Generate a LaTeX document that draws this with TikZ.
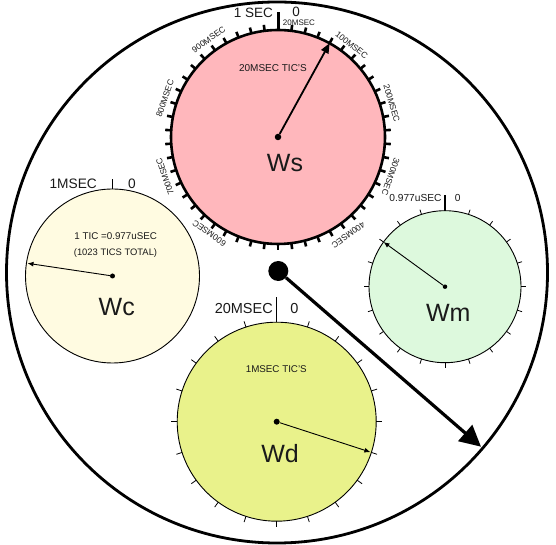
\documentclass[tikz,border=0pt]{standalone}
\usepackage{fontspec}
\setmainfont{Liberation Sans}
\usetikzlibrary{arrows.meta}
\definecolor{wspink}{HTML}{FFB7BC}
\definecolor{wccream}{HTML}{FFFBE1}
\definecolor{wmgreen}{HTML}{DDF9DD}
\definecolor{wdyellow}{HTML}{E9F28B}
\definecolor{ink}{HTML}{1A1A1A}
\begin{document}
\begin{tikzpicture}[x=1pt,y=1pt,
  dial/.style={circle, draw=black, line width=0.9pt, inner sep=0pt},
  hub/.style={circle, fill=black, inner sep=0pt, minimum size=5pt},
  wstic/.style={line width=2.6pt},
  tic/.style={line width=0.8pt},
  zerotic/.style={line width=1.1pt},
  txt/.style={inner sep=0pt, text=ink},
  dialname/.style={txt, font=\fontsize{25}{25}\selectfont},
  ringtext/.style={txt, font=\fontsize{8.5}{8.5}\selectfont},
  pointer/.style={-{Latex[length=6pt,width=5pt]}, line width=0.9pt}]
\useasboundingbox (0,0) rectangle (556,545);
\draw [line width=2.8pt] (277,272.5) circle (270.5pt);
% Ws
\node [dial, fill=wspink, line width=2.6pt, minimum size=214pt] (ws) at (278,408) {};
\draw [line width=3pt] (ws) ++(90:107) -- ++(90:18);
\draw [wstic] (ws) ++(82.8:107) -- ++(82.8:6);
\draw [wstic] (ws) ++(75.6:107) -- ++(75.6:6);
\draw [wstic] (ws) ++(68.4:107) -- ++(68.4:6);
\draw [wstic] (ws) ++(61.2:107) -- ++(61.2:6);
\draw [wstic] (ws) ++(54:107) -- ++(54:6);
\draw [wstic] (ws) ++(46.8:107) -- ++(46.8:6);
\draw [wstic] (ws) ++(39.6:107) -- ++(39.6:6);
\draw [wstic] (ws) ++(32.4:107) -- ++(32.4:6);
\draw [wstic] (ws) ++(25.2:107) -- ++(25.2:6);
\draw [wstic] (ws) ++(18:107) -- ++(18:6);
\draw [wstic] (ws) ++(10.8:107) -- ++(10.8:6);
\draw [wstic] (ws) ++(3.6:107) -- ++(3.6:6);
\draw [wstic] (ws) ++(-3.6:107) -- ++(-3.6:6);
\draw [wstic] (ws) ++(-10.8:107) -- ++(-10.8:6);
\draw [wstic] (ws) ++(-18:107) -- ++(-18:6);
\draw [wstic] (ws) ++(-25.2:107) -- ++(-25.2:6);
\draw [wstic] (ws) ++(-32.4:107) -- ++(-32.4:6);
\draw [wstic] (ws) ++(-39.6:107) -- ++(-39.6:6);
\draw [wstic] (ws) ++(-46.8:107) -- ++(-46.8:6);
\draw [wstic] (ws) ++(-54:107) -- ++(-54:6);
\draw [wstic] (ws) ++(-61.2:107) -- ++(-61.2:6);
\draw [wstic] (ws) ++(-68.4:107) -- ++(-68.4:6);
\draw [wstic] (ws) ++(-75.6:107) -- ++(-75.6:6);
\draw [wstic] (ws) ++(-82.8:107) -- ++(-82.8:6);
\draw [wstic] (ws) ++(-90:107) -- ++(-90:6);
\draw [wstic] (ws) ++(-97.2:107) -- ++(-97.2:6);
\draw [wstic] (ws) ++(-104.4:107) -- ++(-104.4:6);
\draw [wstic] (ws) ++(-111.6:107) -- ++(-111.6:6);
\draw [wstic] (ws) ++(-118.8:107) -- ++(-118.8:6);
\draw [wstic] (ws) ++(-126:107) -- ++(-126:6);
\draw [wstic] (ws) ++(-133.2:107) -- ++(-133.2:6);
\draw [wstic] (ws) ++(-140.4:107) -- ++(-140.4:6);
\draw [wstic] (ws) ++(-147.6:107) -- ++(-147.6:6);
\draw [wstic] (ws) ++(-154.8:107) -- ++(-154.8:6);
\draw [wstic] (ws) ++(-162:107) -- ++(-162:6);
\draw [wstic] (ws) ++(-169.2:107) -- ++(-169.2:6);
\draw [wstic] (ws) ++(-176.4:107) -- ++(-176.4:6);
\draw [wstic] (ws) ++(-183.6:107) -- ++(-183.6:6);
\draw [wstic] (ws) ++(-190.8:107) -- ++(-190.8:6);
\draw [wstic] (ws) ++(-198:107) -- ++(-198:6);
\draw [wstic] (ws) ++(-205.2:107) -- ++(-205.2:6);
\draw [wstic] (ws) ++(-212.4:107) -- ++(-212.4:6);
\draw [wstic] (ws) ++(-219.6:107) -- ++(-219.6:6);
\draw [wstic] (ws) ++(-226.8:107) -- ++(-226.8:6);
\draw [wstic] (ws) ++(-234:107) -- ++(-234:6);
\draw [wstic] (ws) ++(-241.2:107) -- ++(-241.2:6);
\draw [wstic] (ws) ++(-248.4:107) -- ++(-248.4:6);
\draw [wstic] (ws) ++(-255.6:107) -- ++(-255.6:6);
\draw [wstic] (ws) ++(-262.8:107) -- ++(-262.8:6);
\node [txt, anchor=east, font=\fontsize{13.5}{13.5}\selectfont] (wsfull) at (273,532) {1 SEC};
\node [txt, font=\fontsize{13.5}{13.5}\selectfont] (wszero) at (296,533) {0};
\node [txt, font=\fontsize{8}{8}\selectfont] (wsstep) at (299,522.5) {20MSEC};
\node [ringtext, rotate=-38.7] (ws100) at (351.7,500) {100MSEC};
\node [ringtext, rotate=-73.5] (ws200) at (391.7,441.7) {200MSEC};
\node [ringtext, rotate=-109.4] (ws300) at (390.7,368.3) {300MSEC};
\node [ringtext, rotate=-144.3] (ws400) at (348.3,310) {400MSEC};
\node [ringtext, rotate=144.5] (ws600) at (209.3,311.7) {600MSEC};
\node [ringtext, rotate=109.4] (ws700) at (165,368.3) {700MSEC};
\node [ringtext, rotate=71.1] (ws800) at (165,446.7) {800MSEC};
\node [ringtext, rotate=35.5] (ws900) at (208.7,505.3) {900MSEC};
\node [txt, font=\fontsize{10}{10}\selectfont] (wstics) at (273,477) {20MSEC TIC'S};
\node [dialname] (wsname) at (285,382) {Ws};
\node [hub, minimum size=6.5pt] (wshub) at (ws) {};
\coordinate (wstip) at (329.6,501.8);
\draw [-{Triangle[length=10pt,width=8pt]}, line width=1.8pt] (wshub) -- (wstip);
% Wc
\node [dial, fill=wccream, minimum size=174pt] (wc) at (112.5,269) {};
\draw [zerotic] (wc) ++(90:87) -- ++(90:10);
\node [txt, anchor=east, font=\fontsize{13.7}{13.7}\selectfont] (wcfull) at (97,361.5) {1MSEC};
\node [txt, font=\fontsize{13.7}{13.7}\selectfont] (wczero) at (132,361.5) {0};
\node [txt, font=\fontsize{9.8}{9.8}\selectfont] (wctic) at (115.7,309) {1 TIC =0.977uSEC};
\node [txt, font=\fontsize{9.4}{9.4}\selectfont] (wctotal) at (115.5,291.7) {(1023 TICS TOTAL)};
\node [dialname] (wcname) at (116.7,238.3) {Wc};
\node [hub] (wchub) at (wc) {};
\coordinate (wctip) at (27.5,281.7);
\draw [pointer] (wchub) -- (wctip);
% Wm
\node [dial, fill=wmgreen, minimum size=152pt] (wm) at (445,258.3) {};
\draw [zerotic] (wm) ++(90:76) -- ++(90:16);
\draw [tic] (wm) ++(72:76) -- ++(72:5);
\draw [tic] (wm) ++(54:76) -- ++(54:5);
\draw [tic] (wm) ++(36:76) -- ++(36:5);
\draw [tic] (wm) ++(18:76) -- ++(18:5);
\draw [tic] (wm) ++(0:76) -- ++(0:5);
\draw [tic] (wm) ++(-18:76) -- ++(-18:5);
\draw [tic] (wm) ++(-36:76) -- ++(-36:5);
\draw [tic] (wm) ++(-54:76) -- ++(-54:5);
\draw [tic] (wm) ++(-72:76) -- ++(-72:5);
\draw [tic] (wm) ++(-90:76) -- ++(-90:5);
\draw [tic] (wm) ++(-108:76) -- ++(-108:5);
\draw [tic] (wm) ++(-126:76) -- ++(-126:5);
\draw [tic] (wm) ++(-144:76) -- ++(-144:5);
\draw [tic] (wm) ++(-162:76) -- ++(-162:5);
\draw [tic] (wm) ++(-180:76) -- ++(-180:5);
\draw [tic] (wm) ++(-198:76) -- ++(-198:5);
\draw [tic] (wm) ++(-216:76) -- ++(-216:5);
\draw [tic] (wm) ++(-234:76) -- ++(-234:5);
\draw [tic] (wm) ++(-252:76) -- ++(-252:5);
\node [txt, anchor=east, font=\fontsize{10.2}{10.2}\selectfont] (wmfull) at (441.7,346.7) {0.977uSEC};
\node [txt, font=\fontsize{10.2}{10.2}\selectfont] (wmzero) at (457.7,346.7) {0};
\node [dialname] (wmname) at (448.3,232.3) {Wm};
\node [hub, minimum size=4.5pt] (wmhub) at (wm) {};
\coordinate (wmtip) at (383.5,303);
\draw [pointer] (wmhub) -- (wmtip);
% Wd
\node [dial, fill=wdyellow, minimum size=199pt] (wd) at (276.7,123.3) {};
\draw [zerotic] (wd) ++(90:99.5) -- ++(90:25.5);
\draw [tic] (wd) ++(72:99.5) -- ++(72:6);
\draw [tic] (wd) ++(54:99.5) -- ++(54:6);
\draw [tic] (wd) ++(36:99.5) -- ++(36:6);
\draw [tic] (wd) ++(18:99.5) -- ++(18:6);
\draw [tic] (wd) ++(0:99.5) -- ++(0:6);
\draw [tic] (wd) ++(-18:99.5) -- ++(-18:6);
\draw [tic] (wd) ++(-36:99.5) -- ++(-36:6);
\draw [tic] (wd) ++(-54:99.5) -- ++(-54:6);
\draw [tic] (wd) ++(-72:99.5) -- ++(-72:6);
\draw [tic] (wd) ++(-90:99.5) -- ++(-90:6);
\draw [tic] (wd) ++(-108:99.5) -- ++(-108:6);
\draw [tic] (wd) ++(-126:99.5) -- ++(-126:6);
\draw [tic] (wd) ++(-144:99.5) -- ++(-144:6);
\draw [tic] (wd) ++(-162:99.5) -- ++(-162:6);
\draw [tic] (wd) ++(-180:99.5) -- ++(-180:6);
\draw [tic] (wd) ++(-198:99.5) -- ++(-198:6);
\draw [tic] (wd) ++(-216:99.5) -- ++(-216:6);
\draw [tic] (wd) ++(-234:99.5) -- ++(-234:6);
\draw [tic] (wd) ++(-252:99.5) -- ++(-252:6);
\node [txt, anchor=east, font=\fontsize{14.5}{14.5}\selectfont] (wdfull) at (273,236) {20MSEC};
\node [txt, font=\fontsize{14.5}{14.5}\selectfont] (wdzero) at (294.3,236) {0};
\node [txt, font=\fontsize{9.8}{9.8}\selectfont] (wdtics) at (276.3,176) {1MSEC TIC'S};
\node [dialname] (wdname) at (280,91.7) {Wd};
\node [hub, minimum size=6pt] (wdhub) at (wd) {};
\coordinate (wdtip) at (370.4,92.9);
\draw [pointer] (wdhub) -- (wdtip);
% turning direction
\node [hub, minimum size=20pt] (bighub) at (278.3,274) {};
\coordinate (bigtip) at (481,98.3);
\draw [-{Triangle[length=21pt,width=21pt]}, line width=3.2pt] (bighub) -- (bigtip);
\end{tikzpicture}
\end{document}
